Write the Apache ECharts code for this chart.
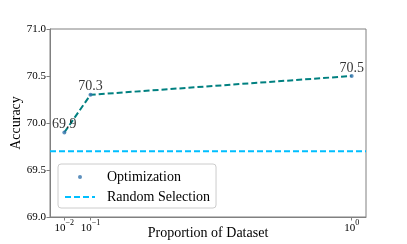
<!DOCTYPE html>
<html><head><meta charset="utf-8">
<script src="https://cdn.jsdelivr.net/npm/echarts@6/dist/echarts.min.js"></script>
<style>html,body{margin:0;padding:0;background:#fff}#c{width:407px;height:244px}</style>
</head><body><div id="c"></div>
<script>
const proportions = [0.01, 0.1, 1];
const accuracy = [69.9, 70.3, 70.5];
const randomSelection = 69.7;
const xTickValues = [0.01, 0.1, 1];
const xTickExponents = ['\u22122', '\u22121', '0'];
const yTicks = [69.0, 69.5, 70.0, 70.5, 71.0];
const xRange = [-0.0395, 1.0495];

const FONT = "'Liberation Serif', 'DejaVu Serif', serif";
const SPINE = '#808080';

const optData = proportions.map((p, i) => [p, accuracy[i]]);
const randData = xRange.map(x => [x, randomSelection]);

const chart = echarts.init(document.getElementById('c'), null, {renderer: 'canvas'});
chart.setOption({
  animation: false,
  backgroundColor: '#fff',
  grid: {left: 50, right: 41, top: 29, bottom: 27, containLabel: false, outerBoundsMode: 'none',
    show: true, borderColor: SPINE, borderWidth: 1, backgroundColor: 'transparent'},
  xAxis: {
    type: 'value', min: xRange[0], max: xRange[1],
    name: 'Proportion of Dataset', nameLocation: 'middle', nameGap: 9, nameMoveOverlap: false,
    nameTextStyle: {fontFamily: FONT, fontSize: 14, color: '#000'},
    axisLine: {show: true, onZero: false, lineStyle: {color: SPINE, width: 1}},
    axisTick: {show: true, length: 3.5, lineStyle: {color: SPINE}, customValues: xTickValues},
    splitLine: {show: false},
    axisLabel: {
      margin: 2,
      hideOverlap: false,
      customValues: xTickValues,
      formatter: function (v) {
        const i = xTickValues.findIndex(t => Math.abs(t - v) < 1e-9);
        return '{b|10}{s|' + (i >= 0 ? xTickExponents[i] : '') + '}';
      },
      rich: {
        b: {fontFamily: FONT, fontSize: 11, color: '#000'},
        s: {fontFamily: FONT, fontSize: 8, color: '#000', padding: [0, 0, 10, 0]}
      }
    }
  },
  yAxis: {
    type: 'value', min: yTicks[0], max: yTicks[yTicks.length - 1], interval: 0.5,
    name: 'Accuracy', nameLocation: 'middle', nameGap: 27, nameRotate: 90, nameMoveOverlap: false,
    nameTextStyle: {fontFamily: FONT, fontSize: 14, color: '#000'},
    axisLine: {show: true, onZero: false, lineStyle: {color: SPINE, width: 1}},
    axisTick: {show: true, length: 3.5, lineStyle: {color: SPINE}},
    splitLine: {show: false},
    axisLabel: {margin: 4, fontFamily: FONT, fontSize: 11, color: '#000', formatter: v => v.toFixed(1)}
  },
  legend: {
    left: 58, top: 164, orient: 'vertical',
    padding: [6, 6, 4, 6], itemGap: 6, itemWidth: 30, itemHeight: 14,
    backgroundColor: 'rgba(255,255,255,0.8)', borderColor: '#cccccc', borderWidth: 1, borderRadius: 3,
    textStyle: {fontFamily: FONT, fontSize: 14, color: '#000', padding: [0, 0, 0, 7]},
    data: [
      {name: 'Optimization', icon: 'path://M0,0M30,0M30,14M0,14M13,7a2,2 0 1,0 4,0a2,2 0 1,0 -4,0z'},
      {name: 'Random Selection', itemStyle: {opacity: 0}}
    ]
  },
  series: [
    {
      name: 'Random Selection', type: 'line', data: randData, symbol: 'none', silent: true,
      itemStyle: {color: '#00bfff'},
      lineStyle: {color: '#00bfff', width: 2, type: [6, 3]}, z: 2
    },
    {
      name: 'OptLine', type: 'line', data: optData, symbol: 'none', silent: true,
      itemStyle: {color: '#008080'},
      lineStyle: {color: '#008080', width: 2, type: [6, 3]}, z: 3
    },
    {
      name: 'Optimization', type: 'scatter', data: optData, symbolSize: 4,
      itemStyle: {color: '#3574ad'}, z: 4,
      label: {show: true, position: 'top', distance: -1, fontFamily: FONT, fontSize: 14, color: '#000',
        formatter: p => p.value[1].toFixed(1)}
    }
  ]
});
</script></body></html>
